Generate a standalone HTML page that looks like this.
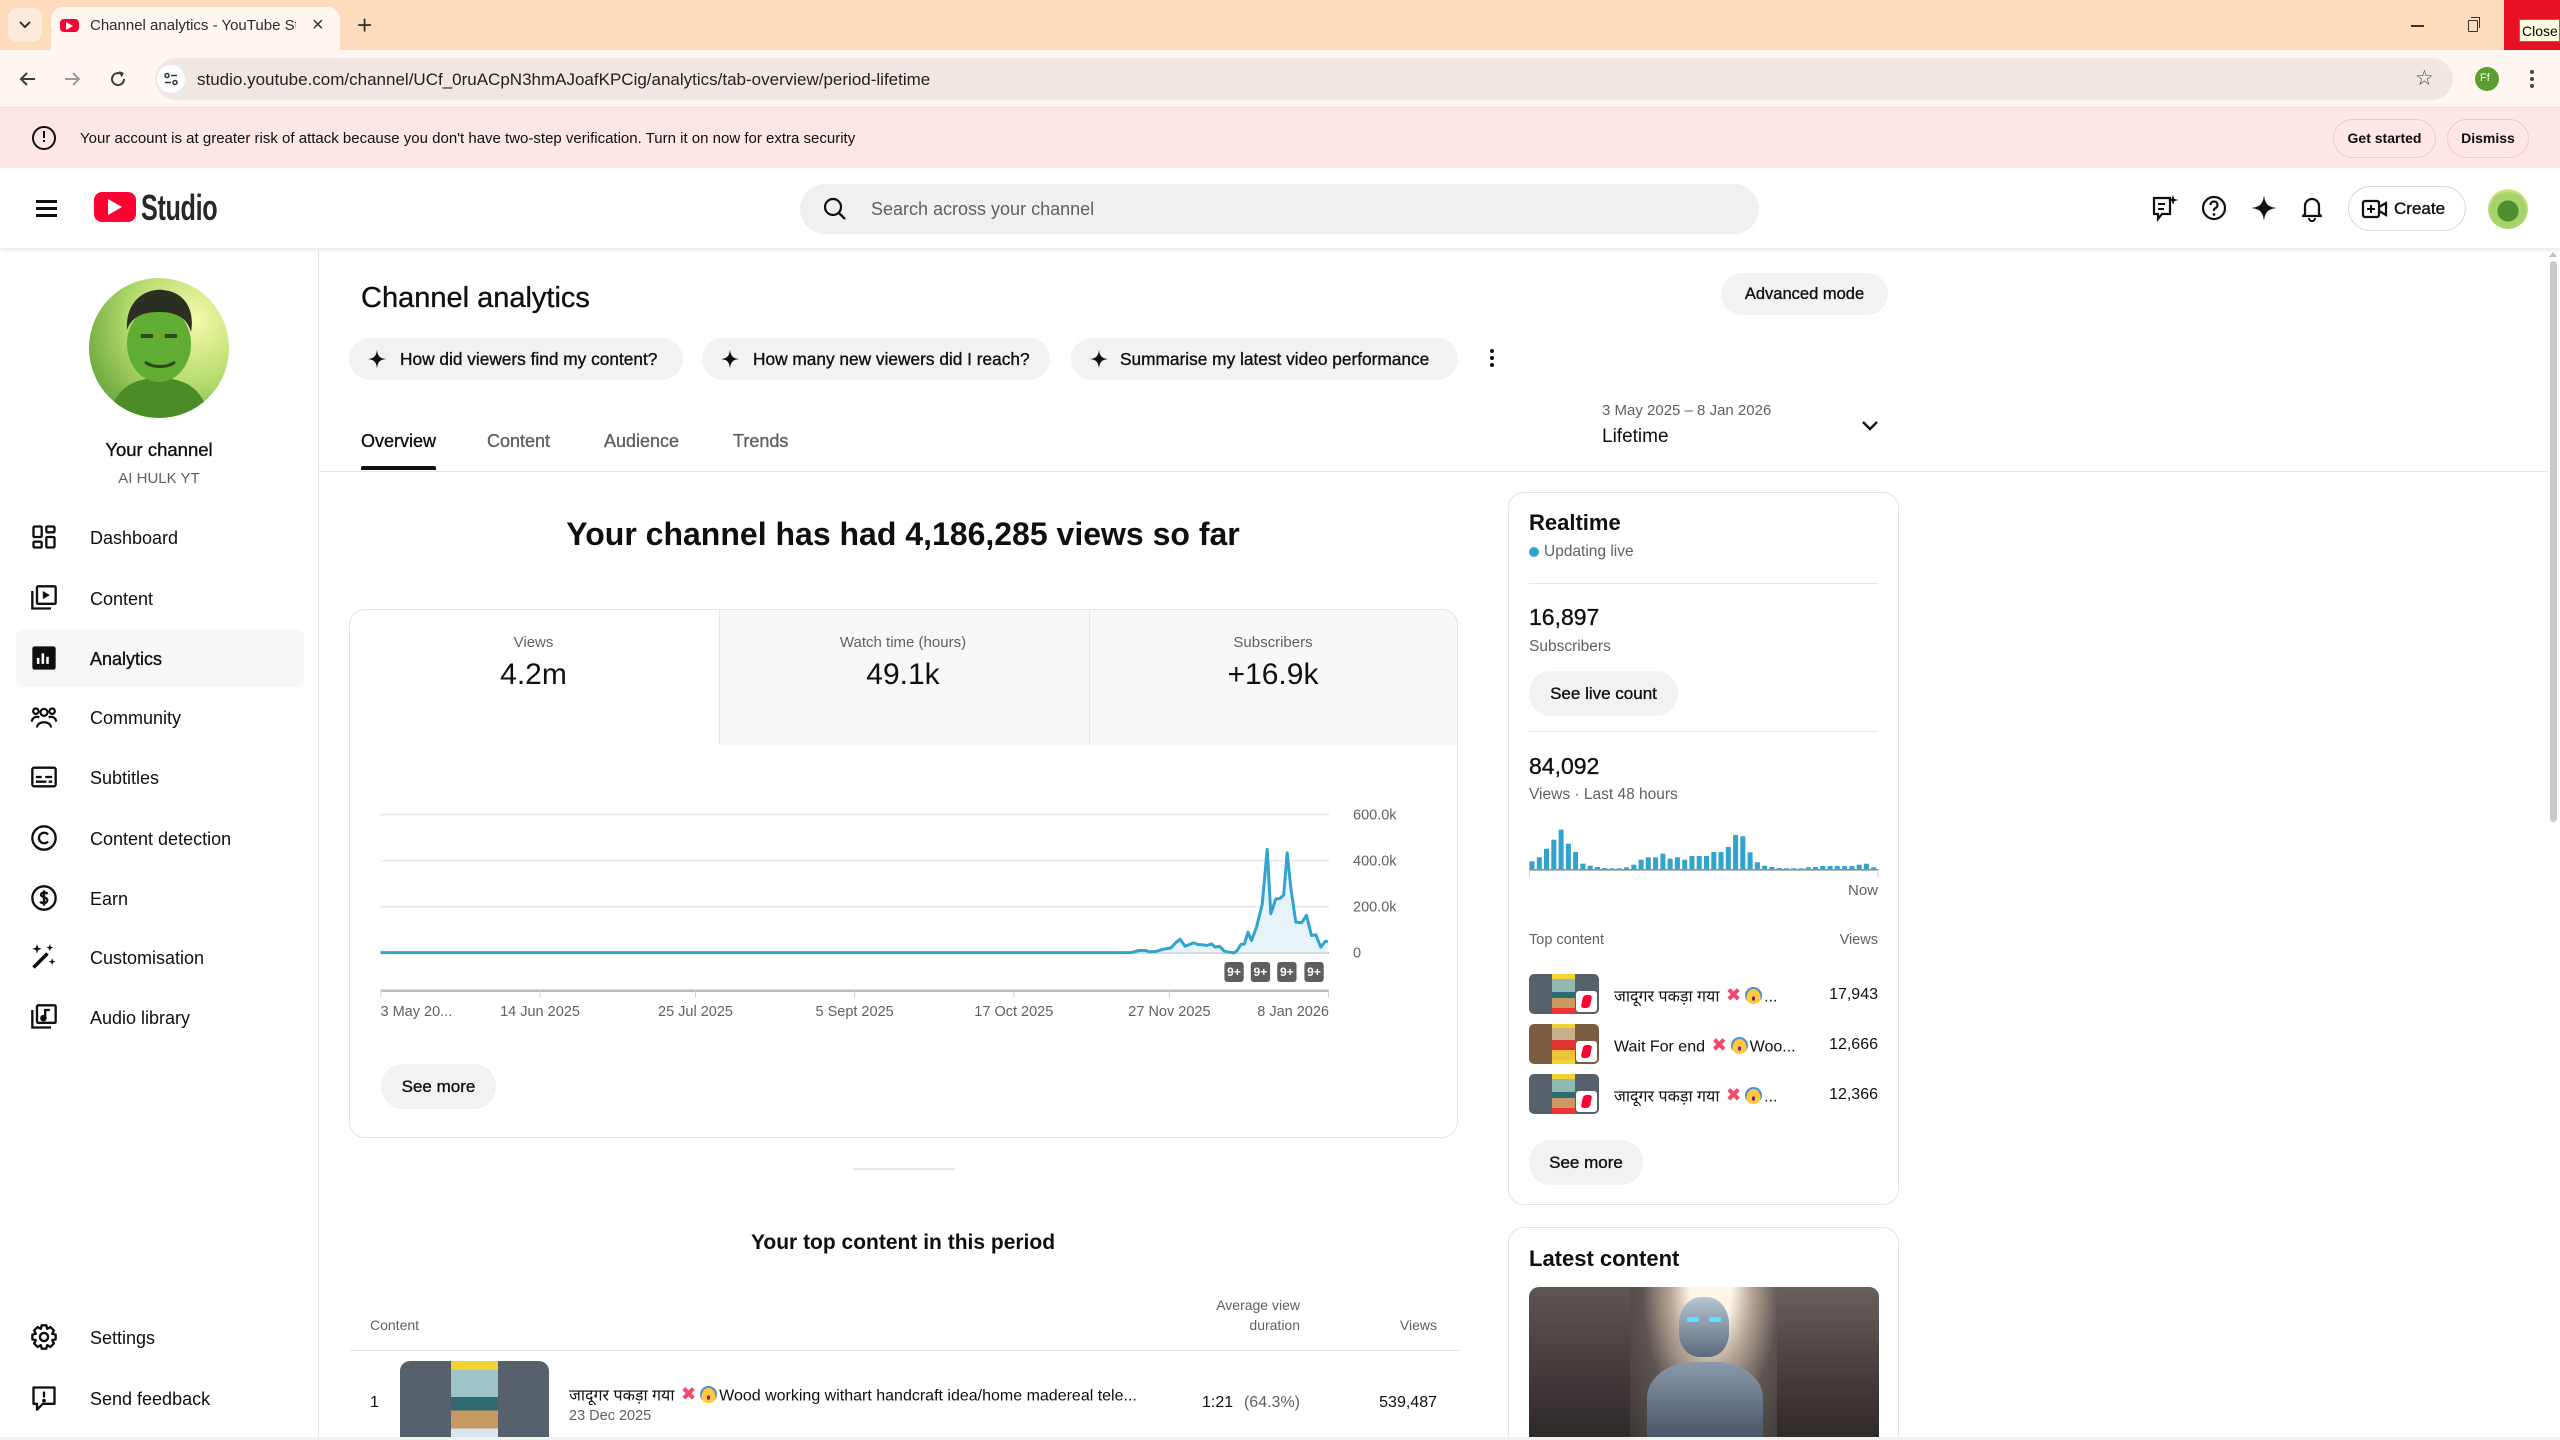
<!DOCTYPE html>
<html><head><meta charset="utf-8">
<style>
body{margin:0;background:#fff}
#r{position:relative;width:2560px;height:1440px;overflow:hidden;background:#fff;font-family:"Liberation Sans","Noto Sans CJK SC",sans-serif;color:#0f0f0f}
.a{position:absolute}
.t{position:absolute;white-space:nowrap;line-height:1}
.m{-webkit-text-stroke:0.35px currentColor}
.g{color:#606060}
.btn{position:absolute;background:#f2f2f2;border-radius:22px}
.hi{font-family:"Liberation Sans","Noto Sans Devanagari","Lohit Devanagari","Mangal",sans-serif}
.x{color:#f4476b;font-family:"DejaVu Sans",sans-serif;font-size:1.15em;font-weight:bold;margin:0 2px}
.em{display:inline-block;width:1.05em;height:1.05em;border-radius:50%;background:radial-gradient(ellipse at 50% 68%,#7a1fa0 0 13%,#ffc83a 15% 58%,#4c8fe0 60%);vertical-align:-0.15em;margin:0 2px}
</style></head><body>
<div id="r">

<!-- ===== Browser tab bar ===== -->
<div class="a" style="left:0;top:0;width:2560px;height:50px;background:#fddcbd"></div>
<div class="a" style="left:8px;top:8px;width:34px;height:34px;border-radius:10px;background:#feeadb"></div>
<svg class="a" style="left:17px;top:18px" width="16" height="14" viewBox="0 0 16 14"><path d="M3 4 L8 9 L13 4" fill="none" stroke="#333" stroke-width="2"/></svg>
<div class="a" style="left:51px;top:7px;width:289px;height:43px;background:#fff6f2;border-radius:12px 12px 0 0"></div>
<div class="a" style="left:60px;top:19px;width:19px;height:13px;background:#ff0033;border-radius:4px"></div>
<svg class="a" style="left:66px;top:22px" width="8" height="8" viewBox="0 0 8 8"><path d="M0 0 L7 4 L0 8Z" fill="#fff"/></svg>
<div class="a" style="left:90px;top:15px;width:206px;height:22px;overflow:hidden"><div class="t" style="left:0;top:3px;font-size:15px;color:#2b2b2b">Channel analytics - YouTube Studio</div></div>
<div class="t" style="left:312px;top:15px;font-size:20px;color:#333">×</div>
<div class="t" style="left:357px;top:12px;font-size:26px;color:#333">+</div>
<div class="a" style="left:2411px;top:25px;width:13px;height:1.5px;background:#333"></div>
<div class="a" style="left:2468px;top:20px;width:8px;height:10px;border:1.5px solid #333;border-radius:1px"></div>
<div class="a" style="left:2471px;top:17px;width:8px;height:10px;border-top:1.5px solid #333;border-right:1.5px solid #333"></div>
<div class="a" style="left:2504px;top:0;width:56px;height:50px;background:#e81123"></div>
<div class="a" style="left:2519px;top:19px;width:41px;height:23px;background:#ffffe1;border:1px solid #767676;box-sizing:border-box"></div>
<div class="t" style="left:2522px;top:24px;font-size:14px;color:#000">Close</div>

<!-- ===== Toolbar ===== -->
<div class="a" style="left:0;top:50px;width:2560px;height:57px;background:#fff6f2;border-bottom:1px solid #f1dccb"></div>
<svg class="a" style="left:18px;top:69px" width="20" height="20" viewBox="0 0 20 20"><path d="M17 10 H4 M9 4 L3 10 L9 16" fill="none" stroke="#3c3c3c" stroke-width="2"/></svg>
<svg class="a" style="left:62px;top:69px" width="20" height="20" viewBox="0 0 20 20"><path d="M3 10 H16 M11 4 L17 10 L11 16" fill="none" stroke="#9a9a9a" stroke-width="2"/></svg>
<svg class="a" style="left:108px;top:69px" width="20" height="20" viewBox="0 0 20 20"><path d="M16 10 A6 6 0 1 1 13.5 5.2" fill="none" stroke="#3c3c3c" stroke-width="2"/><path d="M11 2 L16 4 L13.5 8.5Z" fill="#3c3c3c"/></svg>
<div class="a" style="left:155px;top:58px;width:2298px;height:42px;border-radius:21px;background:#f1e7e2"></div>
<div class="a" style="left:157px;top:65px;width:28px;height:28px;border-radius:14px;background:#fff"></div>
<svg class="a" style="left:163px;top:71px" width="16" height="16" viewBox="0 0 16 16"><circle cx="4" cy="4.5" r="2" fill="none" stroke="#333" stroke-width="1.5"/><path d="M8 4.5 H14 M2 11.5 H8" stroke="#333" stroke-width="1.5"/><circle cx="12" cy="11.5" r="2" fill="none" stroke="#333" stroke-width="1.5"/></svg>
<div class="t" style="left:197px;top:71px;font-size:17px;color:#1f1f1f">studio.youtube.com/channel/UCf_0ruACpN3hmAJoafKPCig/analytics/tab-overview/period-lifetime</div>
<div class="t" style="left:2415px;top:68px;font-size:21px;color:#444;font-family:'DejaVu Sans',sans-serif">☆</div>
<div class="a" style="left:2475px;top:67px;width:24px;height:24px;border-radius:12px;background:#5a9e2f"></div>
<div class="t" style="left:2480px;top:73px;font-size:11px;color:#fff">Ff</div>
<div class="a" style="left:2530px;top:70px;width:4px;height:4px;border-radius:2px;background:#444;box-shadow:0 7px 0 #444,0 14px 0 #444"></div>

<!-- ===== Warning banner ===== -->
<div class="a" style="left:0;top:108px;width:2560px;height:60px;background:#fde6e5"></div>
<div class="a" style="left:32px;top:126px;width:20px;height:20px;border:2px solid #0f0f0f;border-radius:50%"></div>
<div class="a" style="left:43px;top:131px;width:2px;height:7px;background:#0f0f0f"></div>
<div class="a" style="left:43px;top:140px;width:2px;height:2px;background:#0f0f0f"></div>
<div class="t" style="left:80px;top:131px;font-size:15px">Your account is at greater risk of attack because you don't have two-step verification. Turn it on now for extra security</div>
<div class="a" style="left:2333px;top:119px;width:103px;height:39px;border:1px solid #eccaca;border-radius:20px;box-sizing:border-box"></div>
<div class="t" style="left:2333px;top:131px;width:103px;text-align:center;font-size:14px;font-weight:bold">Get started</div>
<div class="a" style="left:2447px;top:119px;width:82px;height:39px;border:1px solid #eccaca;border-radius:20px;box-sizing:border-box"></div>
<div class="t" style="left:2447px;top:131px;width:82px;text-align:center;font-size:14px;font-weight:bold">Dismiss</div>

<!-- ===== Studio header ===== -->
<div class="a" style="left:0;top:168px;width:2560px;height:80px;background:#fff;box-shadow:0 2px 4px rgba(0,0,0,.10)"></div>
<div class="a" style="left:36px;top:200px;width:21px;height:2.5px;background:#0f0f0f;box-shadow:0 7px 0 #0f0f0f,0 14px 0 #0f0f0f"></div>
<div class="a" style="left:94px;top:192px;width:42px;height:30px;background:#ff0033;border-radius:8px"></div>
<svg class="a" style="left:108px;top:199px" width="16" height="16" viewBox="0 0 16 16"><path d="M0 0 L14 8 L0 16Z" fill="#fff"/></svg>
<div class="t" style="left:141px;top:190px;font-size:36px;font-weight:bold;letter-spacing:-0.5px;color:#282828;transform:scaleX(.7);transform-origin:left">Studio</div>
<div class="a" style="left:800px;top:184px;width:959px;height:50px;border-radius:25px;background:#f0f0f0"></div>
<svg class="a" style="left:822px;top:196px" width="26" height="26" viewBox="0 0 26 26"><circle cx="11" cy="11" r="8" fill="none" stroke="#0f0f0f" stroke-width="2.2"/><path d="M17 17 L23 23" stroke="#0f0f0f" stroke-width="2.4"/></svg>
<div class="t" style="left:871px;top:200px;font-size:18px;color:#606060">Search across your channel</div>
<!-- right header icons -->
<svg class="a" style="left:2150px;top:194px" width="28" height="28" viewBox="0 0 28 28"><path d="M4 4 H20 V20 H12 L8 25 V20 H4Z" fill="none" stroke="#0f0f0f" stroke-width="2.2"/><path d="M8 10 H15 M8 15 H14" stroke="#0f0f0f" stroke-width="2"/><path d="M23 1 L24.2 4.8 L28 6 L24.2 7.2 L23 11 L21.8 7.2 L18 6 L21.8 4.8Z" fill="#0f0f0f"/></svg>
<svg class="a" style="left:2200px;top:194px" width="28" height="28" viewBox="0 0 28 28"><circle cx="14" cy="14" r="11" fill="none" stroke="#0f0f0f" stroke-width="2.2"/><path d="M10.5 11 A3.5 3.5 0 1 1 15 14.3 C14 14.8 14 15.5 14 17" fill="none" stroke="#0f0f0f" stroke-width="2.2"/><circle cx="14" cy="20.5" r="1.4" fill="#0f0f0f"/></svg>
<svg class="a" style="left:2250px;top:194px" width="28" height="28" viewBox="0 0 28 28"><path d="M14 1 C15 10 18 13 27 14 C18 15 15 18 14 27 C13 18 10 15 1 14 C10 13 13 10 14 1Z" fill="#0f0f0f"/></svg>
<svg class="a" style="left:2298px;top:194px" width="28" height="28" viewBox="0 0 28 28"><path d="M7 20 V12 A7 7 0 0 1 21 12 V20 L23 22 H5Z" fill="none" stroke="#0f0f0f" stroke-width="2.2" stroke-linejoin="round"/><path d="M11 24 A3 3 0 0 0 17 24" fill="none" stroke="#0f0f0f" stroke-width="2"/></svg>
<div class="a" style="left:2348px;top:186px;width:118px;height:45px;border:1px solid #d9d9d9;border-radius:23px;box-sizing:border-box"></div>
<svg class="a" style="left:2361px;top:198px" width="28" height="22" viewBox="0 0 28 22"><rect x="2" y="3" width="16" height="16" rx="2" fill="none" stroke="#0f0f0f" stroke-width="2.2"/><path d="M10 7 V15 M6 11 H14" stroke="#0f0f0f" stroke-width="2"/><path d="M18 9 L25 5 V17 L18 13" fill="none" stroke="#0f0f0f" stroke-width="2.2"/></svg>
<div class="t m" style="left:2394px;top:200px;font-size:17px">Create</div>
<div class="a" style="left:2488px;top:189px;width:40px;height:40px;border-radius:50%;background:radial-gradient(circle at 50% 55%,#4e8f2e 0 35%,#a8d26a 36% 60%,#e8f39c 80%)"></div>

<!-- ===== Sidebar ===== -->
<div class="a" style="left:318px;top:248px;width:1px;height:1192px;background:#e5e5e5"></div>
<svg class="a" style="left:89px;top:278px" width="140" height="140" viewBox="0 0 140 140">
<defs><radialGradient id="bg1" cx="0.75" cy="0.3" r="0.9"><stop offset="0" stop-color="#f6f9a8"/><stop offset="0.5" stop-color="#b7dc6e"/><stop offset="1" stop-color="#5e9f34"/></radialGradient>
<clipPath id="cc"><circle cx="70" cy="70" r="70"/></clipPath></defs>
<g clip-path="url(#cc)">
<rect width="140" height="140" fill="url(#bg1)"/>
<path d="M20 140 C25 110 45 100 70 100 C95 100 115 110 120 140Z" fill="#4b8c27"/>
<ellipse cx="70" cy="66" rx="32" ry="38" fill="#5fae33"/>
<path d="M38 52 C36 22 58 10 74 12 C96 14 106 32 102 54 C98 40 88 34 70 34 C52 34 42 40 38 52Z" fill="#2a2f22"/>
<path d="M52 58 H64 M76 58 H88" stroke="#2c4a18" stroke-width="4"/>
<path d="M56 84 C64 90 78 90 86 84" stroke="#2c4a18" stroke-width="3" fill="none"/>
</g></svg>
<div class="t m" style="left:59px;top:441px;width:200px;text-align:center;font-size:18.5px">Your channel</div>
<div class="t g" style="left:59px;top:471px;width:200px;text-align:center;font-size:15px">AI HULK YT</div>

<div class="a" style="left:16px;top:629px;width:288px;height:58px;border-radius:8px;background:#f7f7f7"></div>

<!-- nav icons -->
<svg class="a" style="left:30px;top:523px" width="28" height="28" viewBox="0 0 24 24" fill="none" stroke="#0f0f0f" stroke-width="2"><rect x="3" y="3" width="7" height="9" rx="1"/><rect x="14" y="3" width="7" height="5" rx="1"/><rect x="3" y="16" width="7" height="5" rx="1"/><rect x="14" y="12" width="7" height="9" rx="1"/></svg>
<div class="t" style="left:90px;top:529px;font-size:18px">Dashboard</div>
<svg class="a" style="left:30px;top:584px" width="28" height="28" viewBox="0 0 24 24" fill="none" stroke="#0f0f0f" stroke-width="2"><rect x="6" y="2" width="16" height="15" rx="1"/><path d="M2 6 V21 H18"/><path d="M11 6 L17 9.5 L11 13Z" fill="#0f0f0f" stroke="none"/></svg>
<div class="t" style="left:90px;top:590px;font-size:18px">Content</div>
<svg class="a" style="left:30px;top:644px" width="28" height="28" viewBox="0 0 24 24"><rect x="2" y="2" width="20" height="20" rx="2" fill="#0f0f0f"/><path d="M7 17 V12 M11 17 V8 M15 17 V11" stroke="#fff" stroke-width="2.2"/></svg>
<div class="t m" style="left:90px;top:650px;font-size:18px">Analytics</div>
<svg class="a" style="left:30px;top:703px" width="28" height="28" viewBox="0 0 24 24" fill="none" stroke="#0f0f0f" stroke-width="1.9"><circle cx="12" cy="8" r="3"/><circle cx="5" cy="7" r="2.3"/><circle cx="19" cy="7" r="2.3"/><path d="M6 21 C6 15 18 15 18 21"/><path d="M1.5 16 C2 12 6 11 8 12.5 M22.5 16 C22 12 18 11 16 12.5"/></svg>
<div class="t" style="left:90px;top:709px;font-size:18px">Community</div>
<svg class="a" style="left:30px;top:763px" width="28" height="28" viewBox="0 0 24 24" fill="none" stroke="#0f0f0f" stroke-width="2"><rect x="2" y="4" width="20" height="16" rx="1.5"/><path d="M5 12 H10 M13 12 H19 M5 16 H14 M16 16 H19"/></svg>
<div class="t" style="left:90px;top:769px;font-size:18px">Subtitles</div>
<svg class="a" style="left:30px;top:824px" width="28" height="28" viewBox="0 0 24 24" fill="none" stroke="#0f0f0f" stroke-width="2"><circle cx="12" cy="12" r="10"/><path d="M15.5 9 A4.5 4.5 0 1 0 15.5 15"/></svg>
<div class="t" style="left:90px;top:830px;font-size:18px">Content detection</div>
<svg class="a" style="left:30px;top:884px" width="28" height="28" viewBox="0 0 24 24" fill="none" stroke="#0f0f0f" stroke-width="2"><circle cx="12" cy="12" r="10"/><path d="M15 8.5 C14 7 10 6.8 9.5 9 C9 11.5 15 11 14.8 14 C14.5 16.8 10 17 8.8 15 M12 5.5 V18.5"/></svg>
<div class="t" style="left:90px;top:890px;font-size:18px">Earn</div>
<svg class="a" style="left:30px;top:943px" width="28" height="28" viewBox="0 0 24 24" fill="#0f0f0f"><path d="M3 21 L15 9" stroke="#0f0f0f" stroke-width="3"/><path d="M6 1 L7 4 L10 5 L7 6 L6 9 L5 6 L2 5 L5 4Z"/><path d="M17 1 L17.8 3.2 L20 4 L17.8 4.8 L17 7 L16.2 4.8 L14 4 L16.2 3.2Z"/><path d="M19 13 L19.8 15.2 L22 16 L19.8 16.8 L19 19 L18.2 16.8 L16 16 L18.2 15.2Z"/></svg>
<div class="t" style="left:90px;top:949px;font-size:18px">Customisation</div>
<svg class="a" style="left:30px;top:1003px" width="28" height="28" viewBox="0 0 24 24" fill="none" stroke="#0f0f0f" stroke-width="2"><rect x="6" y="2" width="16" height="15" rx="1"/><path d="M2 6 V21 H18"/><path d="M13 13 V6 H17" /><circle cx="11.5" cy="13" r="1.8" fill="#0f0f0f"/></svg>
<div class="t" style="left:90px;top:1009px;font-size:18px">Audio library</div>
<svg class="a" style="left:30px;top:1323px" width="28" height="28" viewBox="0 0 24 24" fill="none" stroke="#0f0f0f" stroke-width="2"><path d="M10 2 H14 L14.7 5 L17.5 3.5 L20.5 6.5 L19 9.3 L22 10 V14 L19 14.7 L20.5 17.5 L17.5 20.5 L14.7 19 L14 22 H10 L9.3 19 L6.5 20.5 L3.5 17.5 L5 14.7 L2 14 V10 L5 9.3 L3.5 6.5 L6.5 3.5 L9.3 5Z" stroke-linejoin="round"/><circle cx="12" cy="12" r="3.5"/></svg>
<div class="t" style="left:90px;top:1329px;font-size:18px">Settings</div>
<svg class="a" style="left:30px;top:1384px" width="28" height="28" viewBox="0 0 24 24" fill="none" stroke="#0f0f0f" stroke-width="2"><path d="M3 3 H21 V17 H11 L6 22 V17 H3Z" stroke-linejoin="round"/><path d="M12 6.5 V11.5"/><circle cx="12" cy="14.2" r="0.6" fill="#0f0f0f"/></svg>
<div class="t" style="left:90px;top:1390px;font-size:18px">Send feedback</div>

<!-- ===== Main header area ===== -->
<div class="t m" style="left:361px;top:284px;font-size:29px">Channel analytics</div>
<div class="btn" style="left:1721px;top:273px;width:167px;height:42px;border-radius:21px"></div>
<div class="t m" style="left:1721px;top:286px;width:167px;text-align:center;font-size:16.5px">Advanced mode</div>

<div class="btn" style="left:349px;top:338px;width:334px;height:42px;border-radius:21px"></div>
<div class="btn" style="left:702px;top:338px;width:348px;height:42px;border-radius:21px"></div>
<div class="btn" style="left:1071px;top:338px;width:387px;height:42px;border-radius:21px"></div>
<svg class="a" style="left:367px;top:349px" width="20" height="20" viewBox="0 0 28 28"><path d="M14 1 C15 10 18 13 27 14 C18 15 15 18 14 27 C13 18 10 15 1 14 C10 13 13 10 14 1Z" fill="#0f0f0f"/></svg>
<svg class="a" style="left:720px;top:349px" width="20" height="20" viewBox="0 0 28 28"><path d="M14 1 C15 10 18 13 27 14 C18 15 15 18 14 27 C13 18 10 15 1 14 C10 13 13 10 14 1Z" fill="#0f0f0f"/></svg>
<svg class="a" style="left:1089px;top:349px" width="20" height="20" viewBox="0 0 28 28"><path d="M14 1 C15 10 18 13 27 14 C18 15 15 18 14 27 C13 18 10 15 1 14 C10 13 13 10 14 1Z" fill="#0f0f0f"/></svg>
<div class="t m" style="left:400px;top:351px;font-size:17.3px">How did viewers find my content?</div>
<div class="t m" style="left:753px;top:351px;font-size:17.3px">How many new viewers did I reach?</div>
<div class="t m" style="left:1120px;top:351px;font-size:17.3px">Summarise my latest video performance</div>
<div class="a" style="left:1490px;top:349px;width:4px;height:4px;border-radius:2px;background:#0f0f0f;box-shadow:0 7px 0 #0f0f0f,0 14px 0 #0f0f0f"></div>

<div class="t m" style="left:361px;top:432px;font-size:18px">Overview</div>
<div class="t m g" style="left:487px;top:432px;font-size:18px">Content</div>
<div class="t m g" style="left:604px;top:432px;font-size:18px">Audience</div>
<div class="t m g" style="left:733px;top:432px;font-size:18px">Trends</div>
<div class="a" style="left:361px;top:466px;width:75px;height:4px;background:#0f0f0f;border-radius:2px 2px 0 0"></div>
<div class="a" style="left:318px;top:471px;width:2230px;height:1px;background:#e5e5e5"></div>

<div class="t g" style="left:1602px;top:403px;font-size:15px">3 May 2025 – 8 Jan 2026</div>
<div class="t" style="left:1602px;top:427px;font-size:19px">Lifetime</div>
<svg class="a" style="left:1860px;top:418px" width="20" height="16" viewBox="0 0 20 16"><path d="M3 4 L10 11 L17 4" fill="none" stroke="#0f0f0f" stroke-width="2.4"/></svg>

<!-- Headline -->
<div class="t" style="left:453px;top:518px;width:900px;text-align:center;font-size:32px;font-weight:bold">Your channel has had 4,186,285 views so far</div>

<!-- Stats card -->
<div class="a" style="left:349px;top:609px;width:1109px;height:529px;border:1px solid #e3e3e3;border-radius:16px;box-sizing:border-box;overflow:hidden">
  <div class="a" style="left:369px;top:0;width:370px;height:135px;background:#f8f8f8;border-left:1px solid #e5e5e5"></div>
  <div class="a" style="left:739px;top:0;width:370px;height:135px;background:#f8f8f8;border-left:1px solid #e5e5e5"></div>
</div>
<div class="t g" style="left:349px;top:635px;width:369px;text-align:center;font-size:15px">Views</div>
<div class="t" style="left:349px;top:660px;width:369px;text-align:center;font-size:30px">4.2m</div>
<div class="t g" style="left:718px;top:635px;width:370px;text-align:center;font-size:15px">Watch time (hours)</div>
<div class="t" style="left:718px;top:660px;width:370px;text-align:center;font-size:30px">49.1k</div>
<div class="t g" style="left:1088px;top:635px;width:370px;text-align:center;font-size:15px">Subscribers</div>
<div class="t" style="left:1088px;top:660px;width:370px;text-align:center;font-size:30px">+16.9k</div>

<!-- Chart -->
<svg class="a" style="left:0;top:0" width="2560" height="1440" viewBox="0 0 2560 1440">
  <g stroke="#ebebeb" stroke-width="2">
    <line x1="380.5" y1="814.5" x2="1329" y2="814.5"/>
    <line x1="380.5" y1="860.6" x2="1329" y2="860.6"/>
    <line x1="380.5" y1="906.7" x2="1329" y2="906.7"/>
    <line x1="380.5" y1="952.6" x2="1329" y2="952.6" stroke="#bdbdbd"/>
  </g>
  <polygon fill="#e6f4fa" points="380.5,952.6 1131.6,952.6 1138.7,950.5 1145.9,950.5 1149.5,951.9 1156.6,951.2 1163.7,949.2 1170.9,947.9 1176.6,941.9 1180.1,939.2 1185.1,946.2 1193.7,942.9 1198,944.5 1203,944.9 1206.6,945.5 1211.6,943.9 1215.1,947.2 1219.4,946.2 1224.4,951.2 1229.4,952.2 1233.7,952.9 1237.3,950.5 1240.8,944.5 1244.4,943.9 1248,932.2 1251.5,940.5 1256.5,927.1 1262.2,904.4 1267.2,849.2 1270.8,913.8 1275.8,899 1280.1,898.4 1283.7,895 1287.2,852.9 1290.8,887.7 1295.8,922.1 1301.5,922.8 1306.5,915.4 1311.5,935.5 1315.8,934.8 1320.8,947.2 1325.1,941.5 1327.9,941.2 1327.9,952.6"/>
  <polyline fill="none" stroke="#31a3cf" stroke-width="3" stroke-linejoin="round" points="380.5,952.6 1131.6,952.6 1138.7,950.5 1145.9,950.5 1149.5,951.9 1156.6,951.2 1163.7,949.2 1170.9,947.9 1176.6,941.9 1180.1,939.2 1185.1,946.2 1193.7,942.9 1198,944.5 1203,944.9 1206.6,945.5 1211.6,943.9 1215.1,947.2 1219.4,946.2 1224.4,951.2 1229.4,952.2 1233.7,952.9 1237.3,950.5 1240.8,944.5 1244.4,943.9 1248,932.2 1251.5,940.5 1256.5,927.1 1262.2,904.4 1267.2,849.2 1270.8,913.8 1275.8,899 1280.1,898.4 1283.7,895 1287.2,852.9 1290.8,887.7 1295.8,922.1 1301.5,922.8 1306.5,915.4 1311.5,935.5 1315.8,934.8 1320.8,947.2 1325.1,941.5 1327.9,941.2"/>
  <g fill="#5f5f5f">
    <rect x="1224.4" y="962" width="19.3" height="20" rx="3"/>
    <rect x="1250.8" y="962" width="19.3" height="20" rx="3"/>
    <rect x="1277.2" y="962" width="19.3" height="20" rx="3"/>
    <rect x="1304.4" y="962" width="19.3" height="20" rx="3"/>
  </g>
  <g fill="#fff" font-family="Liberation Sans, sans-serif" font-size="12" text-anchor="middle" font-weight="bold">
    <text x="1234" y="976">9+</text><text x="1260.4" y="976">9+</text><text x="1286.8" y="976">9+</text><text x="1314" y="976">9+</text>
  </g>
  <line x1="380.5" y1="990.7" x2="1329" y2="990.7" stroke="#bcbcbc" stroke-width="2.5"/>
  <g stroke="#cfcfcf" stroke-width="1">
    <line x1="381" y1="990" x2="381" y2="998"/><line x1="540" y1="990" x2="540" y2="998"/><line x1="695.5" y1="990" x2="695.5" y2="998"/><line x1="854.6" y1="990" x2="854.6" y2="998"/><line x1="1013.8" y1="990" x2="1013.8" y2="998"/><line x1="1169.4" y1="990" x2="1169.4" y2="998"/><line x1="1328.5" y1="990" x2="1328.5" y2="998"/>
  </g>
  <g fill="#606060" font-family="Liberation Sans, sans-serif" font-size="14.5">
    <text x="380.5" y="1016">3 May 20...</text>
    <text x="540" y="1016" text-anchor="middle">14 Jun 2025</text>
    <text x="695.5" y="1016" text-anchor="middle">25 Jul 2025</text>
    <text x="854.6" y="1016" text-anchor="middle">5 Sept 2025</text>
    <text x="1013.8" y="1016" text-anchor="middle">17 Oct 2025</text>
    <text x="1169.4" y="1016" text-anchor="middle">27 Nov 2025</text>
    <text x="1329" y="1016" text-anchor="end">8 Jan 2026</text>
    <text x="1353" y="819.5">600.0k</text>
    <text x="1353" y="865.6">400.0k</text>
    <text x="1353" y="911.7">200.0k</text>
    <text x="1353" y="957.6">0</text>
  </g>
  <!-- realtime bars -->
  <g fill="#31a3cf">
    <rect x="1529.5" y="861.3" width="5" height="7.7"/>
    <rect x="1536.8" y="857.3" width="5" height="11.7"/>
    <rect x="1544" y="848.7" width="5" height="20.3"/>
    <rect x="1551.3" y="839.7" width="5" height="29.3"/>
    <rect x="1558.6" y="829.7" width="5" height="39.3"/>
    <rect x="1565.9" y="843.7" width="5" height="25.3"/>
    <rect x="1573.1" y="852" width="5" height="17"/>
    <rect x="1580.4" y="863.7" width="5" height="5.3"/>
    <rect x="1587.7" y="865.7" width="5" height="3.3"/>
    <rect x="1594.9" y="867" width="5" height="2"/>
    <rect x="1602.2" y="868" width="5" height="1"/>
    <rect x="1609.5" y="868.3" width="5" height="0.7"/>
    <rect x="1616.7" y="868.3" width="5" height="0.7"/>
    <rect x="1624" y="867.3" width="5" height="1.7"/>
    <rect x="1631.3" y="864.7" width="5" height="4.3"/>
    <rect x="1638.6" y="859.7" width="5" height="9.3"/>
    <rect x="1645.8" y="857.3" width="5" height="11.7"/>
    <rect x="1653.1" y="857.3" width="5" height="11.7"/>
    <rect x="1660.4" y="853.7" width="5" height="15.3"/>
    <rect x="1667.6" y="858.7" width="5" height="10.3"/>
    <rect x="1674.9" y="857.3" width="5" height="11.7"/>
    <rect x="1682.2" y="859.7" width="5" height="9.3"/>
    <rect x="1689.4" y="856" width="5" height="13"/>
    <rect x="1696.7" y="856" width="5" height="13"/>
    <rect x="1704" y="856" width="5" height="13"/>
    <rect x="1711.3" y="852" width="5" height="17"/>
    <rect x="1718.5" y="852" width="5" height="17"/>
    <rect x="1725.8" y="847" width="5" height="22"/>
    <rect x="1733.1" y="835" width="5" height="34"/>
    <rect x="1740.3" y="836.3" width="5" height="32.7"/>
    <rect x="1747.6" y="852.3" width="5" height="16.7"/>
    <rect x="1754.9" y="862.3" width="5" height="6.7"/>
    <rect x="1762.1" y="865.7" width="5" height="3.3"/>
    <rect x="1769.4" y="867" width="5" height="2"/>
    <rect x="1776.7" y="868" width="5" height="1"/>
    <rect x="1784" y="868.3" width="5" height="0.7"/>
    <rect x="1791.2" y="868.3" width="5" height="0.7"/>
    <rect x="1798.5" y="868.3" width="5" height="0.7"/>
    <rect x="1805.8" y="867.3" width="5" height="1.7"/>
    <rect x="1813" y="867" width="5" height="2"/>
    <rect x="1820.3" y="866" width="5" height="3"/>
    <rect x="1827.6" y="866" width="5" height="3"/>
    <rect x="1834.8" y="866" width="5" height="3"/>
    <rect x="1842.1" y="866" width="5" height="3"/>
    <rect x="1849.4" y="866" width="5" height="3"/>
    <rect x="1856.7" y="864.7" width="5" height="4.3"/>
    <rect x="1863.9" y="863.7" width="5" height="5.3"/>
    <rect x="1871.2" y="867.3" width="5" height="1.7"/>
  </g>
  <line x1="1529" y1="869.8" x2="1878.5" y2="869.8" stroke="#8f8f8f" stroke-width="1.6"/>
  <line x1="1529.5" y1="870" x2="1529.5" y2="878" stroke="#d0d0d0" stroke-width="1"/>
  <line x1="1878" y1="870" x2="1878" y2="878" stroke="#d0d0d0" stroke-width="1"/>
</svg>
<div class="btn" style="left:381px;top:1064px;width:115px;height:45px"></div>
<div class="t m" style="left:381px;top:1078px;width:115px;text-align:center;font-size:17px">See more</div>

<!-- Top content section -->
<div class="a" style="left:853px;top:1168px;width:102px;height:2px;background:#e8e8e8"></div>
<div class="t" style="left:603px;top:1232px;width:600px;text-align:center;font-size:21px;font-weight:bold">Your top content in this period</div>
<div class="t g" style="left:370px;top:1318px;font-size:14px">Content</div>
<div class="t g" style="left:1100px;top:1298px;width:200px;text-align:right;font-size:14px">Average view</div>
<div class="t g" style="left:1100px;top:1318px;width:200px;text-align:right;font-size:14px">duration</div>
<div class="t g" style="left:1337px;top:1318px;width:100px;text-align:right;font-size:14px">Views</div>
<div class="a" style="left:350px;top:1350px;width:1109px;height:1px;background:#e0e0e0"></div>
<div class="t" style="left:370px;top:1395px;font-size:16px">1</div>
<div class="a" style="left:400px;top:1361px;width:149px;height:90px;border-radius:10px;background:#56616b;overflow:hidden">
  <div class="a" style="left:51px;top:0;width:47px;height:90px;background:linear-gradient(#f3d234 0 10%,#9fc4c8 10% 40%,#2f6a72 40% 55%,#c79a62 55% 75%,#d9e6f0 75%)"></div>
</div>
<div class="t hi" style="left:569px;top:1386px;font-size:16px">जादूगर पकड़ा गया <span class="x">✖</span><span class="em"></span>Wood working withart handcraft idea/home madereal tele...</div>
<div class="t g" style="left:569px;top:1409px;font-size:14.5px">23 Dec 2025</div>
<div class="t" style="left:1202px;top:1395px;font-size:16px">1:21</div>
<div class="t g" style="left:1100px;top:1395px;width:200px;text-align:right;font-size:16px">(64.3%)</div>
<div class="t" style="left:1337px;top:1395px;width:100px;text-align:right;font-size:16px">539,487</div>

<!-- ===== Realtime card ===== -->
<div class="a" style="left:1508px;top:492px;width:391px;height:713px;border:1px solid #e3e3e3;border-radius:16px;box-sizing:border-box"></div>
<div class="t" style="left:1529px;top:512px;font-size:22px;font-weight:bold">Realtime</div>
<div class="a" style="left:1529px;top:547px;width:10px;height:10px;border-radius:5px;background:#31a3cf"></div>
<div class="t g" style="left:1544px;top:544px;font-size:15.5px">Updating live</div>
<div class="a" style="left:1529px;top:583px;width:349px;height:1px;background:#e5e5e5"></div>
<div class="t m" style="left:1529px;top:606px;font-size:23px">16,897</div>
<div class="t g" style="left:1529px;top:639px;font-size:15.5px">Subscribers</div>
<div class="btn" style="left:1529px;top:671px;width:149px;height:45px"></div>
<div class="t m" style="left:1529px;top:685px;width:149px;text-align:center;font-size:17px">See live count</div>
<div class="a" style="left:1529px;top:731px;width:349px;height:1px;background:#e5e5e5"></div>
<div class="t m" style="left:1529px;top:755px;font-size:23px">84,092</div>
<div class="t g" style="left:1529px;top:787px;font-size:15.5px">Views · Last 48 hours</div>
<div class="t g" style="left:1778px;top:883px;width:100px;text-align:right;font-size:15px">Now</div>
<div class="t g" style="left:1529px;top:933px;font-size:14.5px">Top content</div>
<div class="t g" style="left:1778px;top:933px;width:100px;text-align:right;font-size:14.5px">Views</div>

<!-- rows -->
<div class="a" style="left:1529px;top:974px;width:70px;height:40px;border-radius:5px;background:#56616b;overflow:hidden"><div class="a" style="left:23px;top:0;width:23px;height:40px;background:linear-gradient(#f3d234 0 12%,#8fb9b0 12% 45%,#2f6a72 45% 60%,#c79a62 60% 85%,#e33 85%)"></div><div class="a" style="left:47px;top:17px;width:21px;height:21px;border-radius:3px;background:#fff"></div><div class="a" style="left:53px;top:21px;width:9px;height:13px;border-radius:3px;background:#ff0033;transform:skewX(-12deg)"></div></div>
<div class="t hi" style="left:1614px;top:987px;width:184px;overflow:hidden;font-size:16px">जादूगर पकड़ा गया <span class="x">✖</span><span class="em"></span>...</div>
<div class="t" style="left:1778px;top:987px;width:100px;text-align:right;font-size:16px">17,943</div>

<div class="a" style="left:1529px;top:1024px;width:70px;height:40px;border-radius:5px;background:#7a5c40;overflow:hidden"><div class="a" style="left:23px;top:0;width:23px;height:40px;background:linear-gradient(#f3d234 0 10%,#c9b08c 10% 40%,#d33 40% 65%,#f0c23a 65% 90%,#f3d234 90%)"></div><div class="a" style="left:47px;top:17px;width:21px;height:21px;border-radius:3px;background:#fff"></div><div class="a" style="left:53px;top:21px;width:9px;height:13px;border-radius:3px;background:#ff0033;transform:skewX(-12deg)"></div></div>
<div class="t" style="left:1614px;top:1037px;width:190px;overflow:hidden;font-size:16px">Wait For end <span class="x">✖</span><span class="em"></span>Woo...</div>
<div class="t" style="left:1778px;top:1037px;width:100px;text-align:right;font-size:16px">12,666</div>

<div class="a" style="left:1529px;top:1074px;width:70px;height:40px;border-radius:5px;background:#56616b;overflow:hidden"><div class="a" style="left:23px;top:0;width:23px;height:40px;background:linear-gradient(#f3d234 0 12%,#8fb9b0 12% 45%,#2f6a72 45% 60%,#c79a62 60% 85%,#e33 85%)"></div><div class="a" style="left:47px;top:17px;width:21px;height:21px;border-radius:3px;background:#fff"></div><div class="a" style="left:53px;top:21px;width:9px;height:13px;border-radius:3px;background:#ff0033;transform:skewX(-12deg)"></div></div>
<div class="t hi" style="left:1614px;top:1087px;width:184px;overflow:hidden;font-size:16px">जादूगर पकड़ा गया <span class="x">✖</span><span class="em"></span>...</div>
<div class="t" style="left:1778px;top:1087px;width:100px;text-align:right;font-size:16px">12,366</div>

<div class="btn" style="left:1529px;top:1140px;width:114px;height:45px"></div>
<div class="t m" style="left:1529px;top:1154px;width:114px;text-align:center;font-size:17px">See more</div>

<!-- Latest content card -->
<div class="a" style="left:1508px;top:1227px;width:391px;height:240px;border:1px solid #e3e3e3;border-radius:16px;box-sizing:border-box"></div>
<div class="t" style="left:1529px;top:1248px;font-size:22px;font-weight:bold">Latest content</div>
<div class="a" style="left:1529px;top:1287px;width:350px;height:160px;border-radius:10px 10px 0 0;overflow:hidden;background:linear-gradient(#5f5654,#403838 60%,#2c2626)">
  <div class="a" style="left:101px;top:0;width:147px;height:160px;background:radial-gradient(ellipse at 55% 0%,#fff6e8 0 18%,#b9a898 35%,#5d5552 60%,#3a3536)"></div>
  <div class="a" style="left:150px;top:10px;width:50px;height:60px;border-radius:45% 45% 40% 40%;background:linear-gradient(#b8c4d2,#5b6a7c)"></div>
  <div class="a" style="left:158px;top:30px;width:12px;height:5px;background:#5fe0ff;border-radius:2px"></div>
  <div class="a" style="left:180px;top:30px;width:12px;height:5px;background:#5fe0ff;border-radius:2px"></div>
  <div class="a" style="left:118px;top:75px;width:116px;height:90px;border-radius:40% 40% 0 0;background:linear-gradient(#8a99ab,#3f4a5a)"></div>
  <div class="a" style="left:248px;top:0;width:102px;height:160px;background:linear-gradient(#6a5f5c,#433b3a 60%,#2d2727)"></div>
</div>

<!-- Scrollbar -->
<svg class="a" style="left:2548px;top:250px" width="10" height="8" viewBox="0 0 10 8"><path d="M1 7 L5 2 L9 7Z" fill="#c0c0c0"/></svg>
<div class="a" style="left:2550px;top:261px;width:7px;height:561px;border-radius:4px;background:#c9c9c9"></div>

<!-- bottom strip -->
<div class="a" style="left:0;top:1437px;width:2560px;height:3px;background:#eef5ec"></div>
</div>
</body></html>
